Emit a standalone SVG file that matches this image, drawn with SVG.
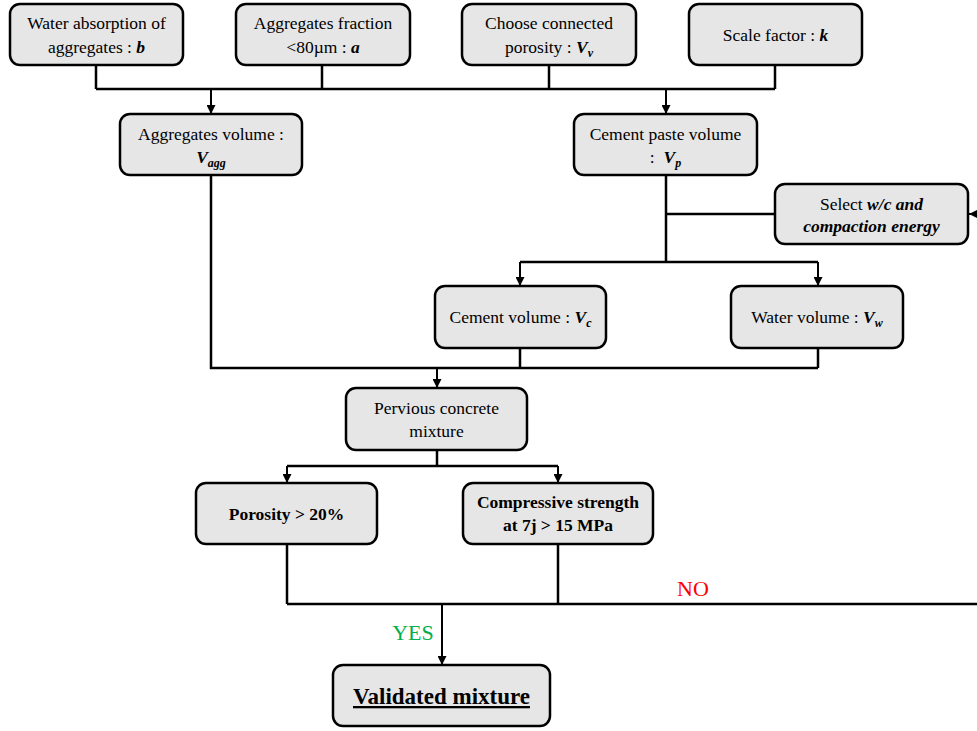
<svg xmlns="http://www.w3.org/2000/svg" width="977" height="731" viewBox="0 0 977 731">
<style>
.box{fill:#E6E6E6;stroke:#000;stroke-width:2.5}
.t{font-family:"Liberation Serif","Times New Roman",serif;font-size:17.5px;fill:#000;text-anchor:middle}
.bi{font-weight:bold;font-style:italic}
.b{font-weight:bold}
.sub{font-size:12px}
.big{font-size:23px;text-decoration:underline}
.c{fill:none;stroke:#000;stroke-width:2.5}
.ca{fill:none;stroke:#000;stroke-width:2;marker-end:url(#ah)}
</style>
<defs>
<marker id="ah" markerUnits="userSpaceOnUse" markerWidth="9" markerHeight="9" viewBox="0 0 10 10" refX="10" refY="5" orient="auto">
<path d="M0,0 L10,5 L0,10 z" fill="#000"/>
</marker>
</defs>
<rect width="977" height="731" fill="#fff"/>
<g id="connectors">
<path class="c" d="M96,65 V89 M322,65 V89 M549,65 V89 M775,65 V89 M96,89 H775"/>
<path class="ca" d="M211,89 V114"/>
<path class="ca" d="M666,89 V114"/>
<path class="c" d="M211,175 V368 H818 M520,348 V368 M818,348 V368"/>
<path class="ca" d="M437,368 V388"/>
<path class="c" d="M666,175 V262 M666,214 H775 M520,262 H818"/>
<path class="ca" d="M520,262 V286"/>
<path class="ca" d="M818,262 V286"/>
<path class="ca" d="M977,214 H969"/>
<path class="c" d="M437,450 V466 M287,466 H558"/>
<path class="ca" d="M287,466 V483"/>
<path class="ca" d="M558,466 V483"/>
<path class="c" d="M287,544 V604 M558,544 V604 M287,604 H977"/>
<path class="ca" d="M442,604 V665"/>
<text x="413" y="640" font-family="Liberation Serif, serif" font-size="22" fill="#00B050" text-anchor="middle">YES</text>
<text x="693" y="596" font-family="Liberation Serif, serif" font-size="22" fill="#FF0000" text-anchor="middle">NO</text>
</g>
<g id="n-water-absorption">
<rect class="box" x="10" y="4" width="173" height="61" rx="10"/>
<text class="t" x="96.5" y="29">Water absorption of</text>
<text class="t" x="96.5" y="53">aggregates : <tspan class="bi">b</tspan></text>
</g>
<g id="n-aggregates-fraction">
<rect class="box" x="236" y="4" width="174" height="61" rx="10"/>
<text class="t" x="323" y="29">Aggregates fraction</text>
<text class="t" x="323" y="53">&lt;80µm : <tspan class="bi">a</tspan></text>
</g>
<g id="n-porosity-choice">
<rect class="box" x="462" y="4" width="174" height="61" rx="10"/>
<text class="t" x="549" y="29">Choose connected</text>
<text class="t" x="549" y="53">porosity : <tspan class="bi">V</tspan><tspan class="bi sub" dy="4">v</tspan></text>
</g>
<g id="n-scale-factor">
<rect class="box" x="689" y="4" width="173" height="61" rx="10"/>
<text class="t" x="775.5" y="41">Scale factor : <tspan class="bi">k</tspan></text>
</g>
<g id="n-aggregates-volume">
<rect class="box" x="120" y="114" width="182" height="61" rx="10"/>
<text class="t" x="211" y="140">Aggregates volume :</text>
<text class="t" x="211" y="163"><tspan class="bi">V</tspan><tspan class="bi sub" dy="4">agg</tspan></text>
</g>
<g id="n-cement-paste">
<rect class="box" x="574" y="114" width="183" height="61" rx="10"/>
<text class="t" x="665.5" y="140">Cement paste volume</text>
<text class="t" x="665.5" y="163" xml:space="preserve">:  <tspan class="bi">V</tspan><tspan class="bi sub" dy="4">p</tspan></text>
</g>
<g id="n-select-wc">
<rect class="box" x="775" y="184" width="193" height="60" rx="10"/>
<text class="t" x="871.5" y="210">Select <tspan class="bi">w/c and</tspan></text>
<text class="t bi" x="871.5" y="232">compaction energy</text>
</g>
<g id="n-cement-volume">
<rect class="box" x="435" y="286" width="171" height="62" rx="10"/>
<text class="t" x="520.5" y="323">Cement volume : <tspan class="bi">V</tspan><tspan class="bi sub" dy="4">c</tspan></text>
</g>
<g id="n-water-volume">
<rect class="box" x="731" y="286" width="172" height="62" rx="10"/>
<text class="t" x="817" y="323">Water volume : <tspan class="bi">V</tspan><tspan class="bi sub" dy="4">w</tspan></text>
</g>
<g id="n-pervious">
<rect class="box" x="346" y="388" width="181" height="62" rx="10"/>
<text class="t" x="436.5" y="414">Pervious concrete</text>
<text class="t" x="436.5" y="437">mixture</text>
</g>
<g id="n-porosity-check">
<rect class="box" x="196" y="483" width="181" height="61" rx="10"/>
<text class="t b" x="286.5" y="520">Porosity &gt; 20%</text>
</g>
<g id="n-strength-check">
<rect class="box" x="463" y="483" width="190" height="61" rx="10"/>
<text class="t b" x="558" y="508">Compressive strength</text>
<text class="t b" x="558" y="531">at 7j &gt; 15 MPa</text>
</g>
<g id="n-validated">
<rect class="box" x="333" y="665" width="217" height="61" rx="10"/>
<text class="t b big" x="441.5" y="704">Validated mixture</text>
</g>
</svg>
